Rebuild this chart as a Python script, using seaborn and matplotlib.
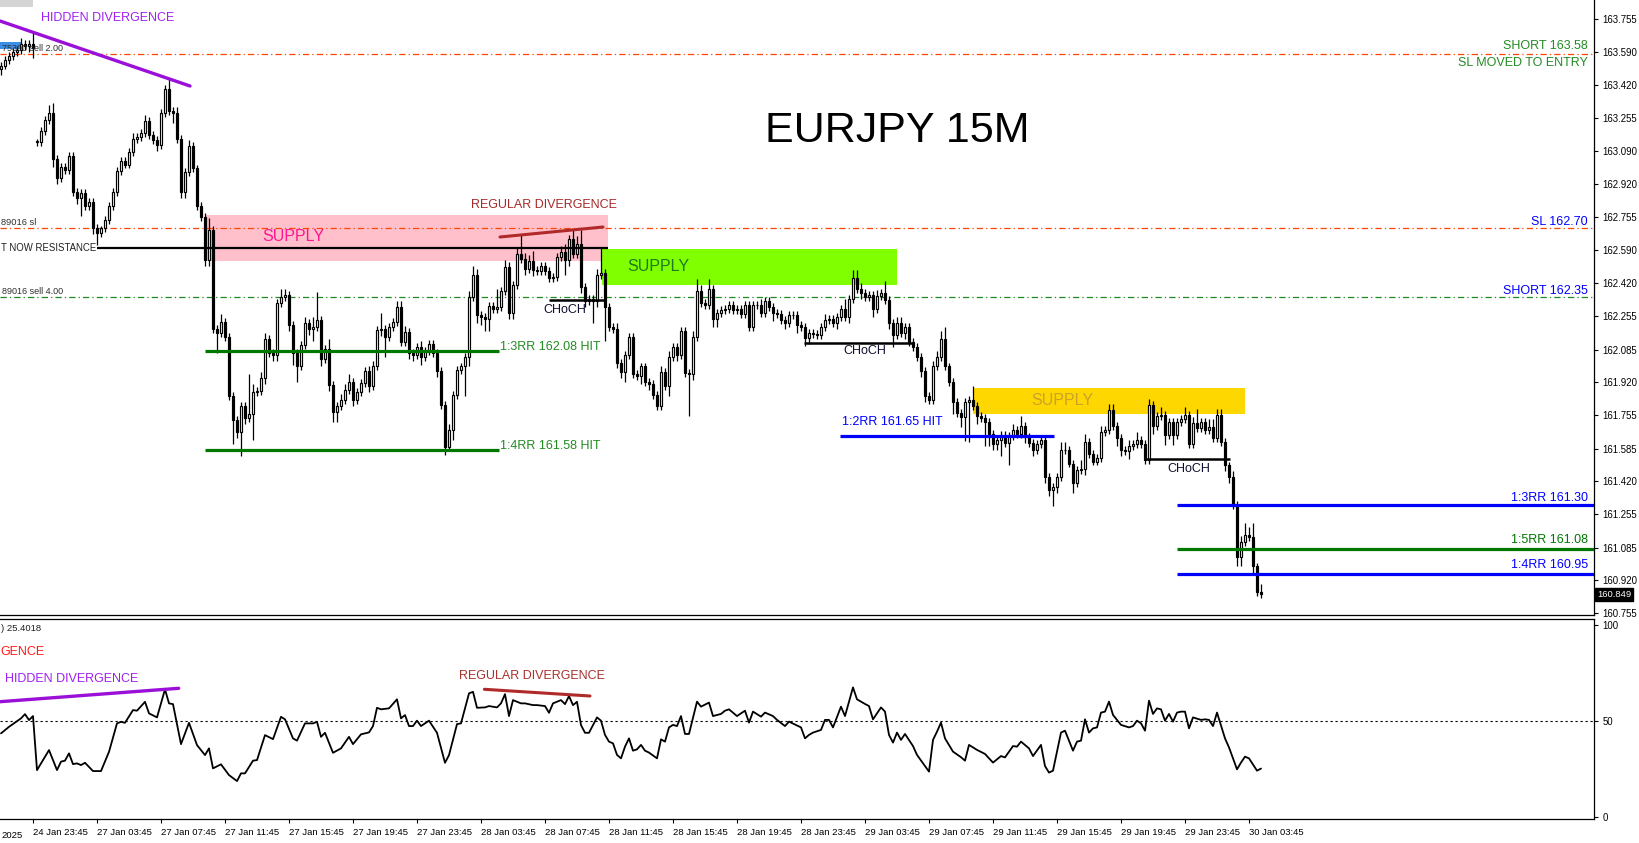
import numpy as np
import seaborn as sns
import matplotlib.pyplot as plt
import matplotlib.transforms as mtransforms
from matplotlib.patches import Rectangle

sns.set_theme(style="white")
plt.rcParams["font.family"] = ["Liberation Sans", "DejaVu Sans"]

# ---- EURJPY 15M candles, bar 0 = 24 Jan 21:45, bar 9 = Monday open ----
closes = [
    163.52, 163.55, 163.57, 163.59, 163.60, 163.63, 163.62, 163.63, 163.61, 163.135,
    163.19, 163.245, 163.28, 163.05, 162.95, 163.01, 162.99, 163.065, 162.88, 162.85,
    162.875, 162.81, 162.83, 162.70, 162.675, 162.70, 162.74, 162.81, 162.88, 162.985,
    163.04, 163.02, 163.085, 163.15, 163.16, 163.18, 163.24, 163.17, 163.145, 163.12,
    163.28, 163.40, 163.29, 163.28, 163.15, 162.88, 162.98, 163.115, 163.00, 162.81,
    162.755, 162.54, 162.69, 162.19, 162.17, 162.225, 162.15, 161.85, 161.73, 161.67,
    161.80, 161.74, 161.76, 161.87, 161.875, 161.94, 162.14, 162.07, 162.06, 162.32,
    162.35, 162.36, 162.21, 162.07, 162.00, 162.11, 162.22, 162.19, 162.20, 162.235,
    162.04, 162.09, 161.905, 161.77, 161.80, 161.83, 161.88, 161.92, 161.83, 161.87,
    161.915, 161.975, 161.90, 162.00, 162.185, 162.19, 162.15, 162.20, 162.225, 162.30,
    162.125, 162.175, 162.07, 162.06, 162.10, 162.05, 162.08, 162.115, 162.07, 161.975,
    161.805, 161.595, 161.68, 161.855, 161.98, 162.00, 162.05, 162.35, 162.46, 162.26,
    162.25, 162.24, 162.305, 162.29, 162.30, 162.38, 162.50, 162.27, 162.41, 162.57,
    162.545, 162.49, 162.535, 162.485, 162.48, 162.51, 162.48, 162.445, 162.45, 162.555,
    162.58, 162.54, 162.645, 162.57, 162.62, 162.40, 162.33, 162.34, 162.33, 162.46,
    162.47, 162.30, 162.20, 162.19, 162.02, 161.97, 162.06, 162.15, 161.96, 161.95,
    162.00, 161.92, 161.91, 161.855, 161.80, 161.97, 161.90, 162.05, 162.10, 162.06,
    162.18, 161.965, 161.96, 162.15, 162.38, 162.32, 162.31, 162.39, 162.24, 162.27,
    162.285, 162.29, 162.31, 162.285, 162.29, 162.265, 162.31, 162.20, 162.31, 162.31,
    162.27, 162.33, 162.30, 162.27, 162.265, 162.235, 162.22, 162.26, 162.26, 162.21,
    162.20, 162.145, 162.17, 162.165, 162.16, 162.20, 162.235, 162.24, 162.22, 162.25,
    162.29, 162.25, 162.34, 162.445, 162.39, 162.37, 162.35, 162.36, 162.29, 162.355,
    162.37, 162.335, 162.22, 162.16, 162.22, 162.17, 162.20, 162.125, 162.10, 162.05,
    161.975, 161.85, 161.83, 162.00, 162.05, 162.14, 162.00, 161.92, 161.82, 161.765,
    161.745, 161.82, 161.83, 161.80, 161.75, 161.74, 161.72, 161.66, 161.61, 161.63,
    161.655, 161.612, 161.65, 161.68, 161.66, 161.70, 161.646, 161.612, 161.578, 161.61,
    161.63, 161.443, 161.376, 161.39, 161.44, 161.578, 161.58, 161.51, 161.41, 161.477,
    161.48, 161.62, 161.56, 161.52, 161.54, 161.67, 161.68, 161.78, 161.70, 161.64,
    161.58, 161.575, 161.60, 161.61, 161.63, 161.61, 161.53, 161.805, 161.70, 161.75,
    161.755, 161.655, 161.72, 161.655, 161.72, 161.735, 161.755, 161.61, 161.713, 161.69,
    161.72, 161.68, 161.696, 161.64, 161.755, 161.62, 161.50, 161.443, 161.30, 161.04,
    161.115, 161.15, 161.14, 160.99, 160.863, 160.849,
]
first_open = 163.50
monday_bar = 9
monday_open = 163.14

# wick lengths in pips (0.01)
upper_wick = [
    2, 2, 2, 2, 2, 3, 2, 2, 6, 1,   2, 2, 4, 5, 2, 2, 2, 2, 2, 2,
    2, 2, 2, 2, 2, 1, 2, 2, 2, 2,   2, 2, 2, 3, 2, 2, 3, 2, 2, 2,
    2, 2, 5, 2, 3, 2, 2, 3, 2, 2,   2, 2, 6, 2, 2, 4, 2, 2, 2, 2,
    2, 2, 20, 4, 2, 3, 3, 2, 2, 2,  4, 3, 2, 2, 2, 2, 3, 2, 5, 14,
    2, 2, 5, 2, 2, 3, 3, 4, 2, 2,   2, 2, 3, 3, 2, 8, 2, 2, 2, 3,
    3, 3, 2, 2, 2, 3, 2, 2, 2, 2,   2, 2, 3, 2, 2, 2, 2, 3, 5, 3,
    2, 2, 2, 2, 9, 2, 4, 3, 2, 3,   10, 3, 3, 5, 2, 2, 2, 2, 2, 2,
    3, 4, 2, 5, 4, 7, 2, 2, 2, 3,   13, 2, 2, 2, 3, 2, 2, 2, 2, 2,
    2, 2, 2, 2, 2, 3, 2, 3, 2, 2,   2, 2, 2, 3, 6, 3, 2, 5, 2, 2,
    2, 2, 2, 2, 2, 2, 2, 2, 2, 2,   3, 2, 2, 2, 2, 2, 2, 2, 2, 2,
    2, 2, 2, 2, 2, 2, 3, 2, 2, 2,   2, 5, 2, 4, 4, 3, 2, 2, 2, 3,
    2, 6, 2, 2, 3, 3, 2, 2, 2, 2,   2, 2, 2, 3, 3, 4, 6, 2, 2, 2,
    2, 2, 2, 7, 2, 2, 2, 2, 2, 2,   2, 2, 2, 3, 2, 5, 2, 2, 2, 2,
    2, 2, 2, 2, 2, 4, 4, 2, 2, 2,   5, 4, 2, 2, 2, 3, 2, 3, 3, 2,
    2, 2, 3, 2, 4, 2, 2, 3, 2, 2,   4, 2, 2, 2, 2, 2, 4, 2, 3, 7,
    2, 2, 4, 4, 3, 3, 2, 2, 3, 2,   3, 6, 4, 7, 2, 4,
]
lower_wick = [
    3, 2, 2, 2, 2, 2, 2, 3, 5, 2,   2, 2, 2, 4, 3, 2, 2, 2, 2, 3,
    9, 2, 2, 3, 6, 2, 2, 2, 2, 2,   2, 2, 2, 2, 2, 2, 2, 2, 2, 3,
    2, 2, 2, 5, 2, 3, 3, 2, 2, 2,   2, 3, 3, 2, 10, 2, 2, 2, 12, 3,
    12, 3, 2, 13, 2, 2, 3, 2, 3, 3, 2, 2, 3, 6, 8, 2, 2, 3, 6, 2,
    4, 2, 3, 5, 5, 2, 2, 2, 3, 2,   2, 2, 3, 2, 2, 3, 10, 2, 2, 2,
    2, 2, 3, 3, 2, 4, 2, 2, 2, 3,   2, 4, 2, 5, 2, 2, 15, 5, 2, 4,
    4, 6, 6, 2, 2, 2, 2, 3, 3, 2,   2, 3, 2, 3, 2, 2, 2, 2, 2, 2,
    2, 8, 3, 2, 2, 3, 3, 2, 11, 3,  2, 17, 2, 2, 3, 3, 5, 2, 2, 2,
    4, 2, 3, 2, 2, 2, 2, 5, 2, 3,   2, 2, 21, 3, 2, 2, 2, 2, 4, 4,
    2, 2, 2, 2, 2, 2, 2, 2, 2, 2,   2, 2, 2, 4, 2, 2, 3, 2, 2, 4,
    2, 4, 3, 2, 2, 2, 2, 2, 2, 3,   2, 2, 3, 2, 2, 3, 2, 2, 4, 2,
    2, 2, 3, 6, 2, 2, 3, 2, 2, 2,   3, 3, 2, 2, 2, 2, 2, 2, 6, 2,
    5, 12, 20, 2, 4, 2, 12, 6, 3, 3, 8, 2, 11, 2, 2, 2, 3, 2, 3, 2,
    2, 3, 3, 8, 3, 2, 2, 2, 5, 2,   2, 3, 2, 2, 2, 2, 2, 2, 2, 4,
    3, 2, 4, 2, 2, 2, 2, 2, 4, 2,   2, 5, 2, 5, 2, 2, 2, 2, 2, 2,
    2, 2, 2, 2, 2, 2, 3, 3, 2, 5,   5, 2, 2, 4, 2, 2,
]

# ---- RSI(14) ----
rsi_bars = [
    0, 2, 5, 6, 7, 8, 9, 11, 12, 14, 15, 16, 17, 18, 19, 20, 21, 23, 25, 27,
    29, 30, 31, 33, 34, 36, 37, 39, 41, 42, 43, 45, 47, 49, 51, 52, 53, 55, 57, 59,
    60, 61, 63, 64, 66, 68, 70, 71, 73, 74, 76, 78, 79, 80, 81, 83, 85, 87, 88, 90,
    92, 93, 94, 95, 97, 99, 100, 101, 102, 103, 104, 105, 107, 109, 111, 112, 114, 115, 117, 118,
    119, 121, 122, 124, 125, 126, 127, 128, 130, 131, 133, 134, 136, 137, 138, 140, 141, 142, 143, 144,
    145, 146, 147, 149, 150, 151, 152, 153, 154, 155, 156, 157, 158, 159, 160, 161, 162, 164, 165, 166,
    167, 168, 169, 170, 171, 172, 174, 175, 177, 178, 180, 181, 182, 184, 186, 187, 188, 190, 191, 193,
    194, 196, 197, 200, 201, 202, 203, 205, 206, 207, 208, 210, 211, 213, 214, 216, 217, 218, 220, 221,
    222, 223, 224, 225, 226, 228, 229, 231, 232, 233, 234, 235, 236, 238, 240, 241, 242, 244, 246, 248,
    250, 251, 253, 254, 255, 257, 258, 260, 261, 262, 263, 265, 266, 268, 269, 270, 271, 272, 273, 274,
    275, 276, 277, 278, 280, 282, 283, 284, 285, 286, 287, 288, 289, 290, 291, 292, 293, 294, 295, 296,
    297, 298, 300, 301, 302, 303, 304, 306, 307, 309, 310, 311, 312, 314, 315,
]
rsi_values = [
    43.7, 47.1, 51.5, 53.7, 50.6, 52.7, 24.6, 31.6, 35.0, 24.6, 29.0, 29.5, 33.3, 27.7, 28.1, 27.2, 28.4, 24.1, 24.1, 34.1,
    48.9, 49.7, 49.2, 55.8, 55.5, 60.1, 54.1, 52.0, 66.6, 59.3, 58.9, 38.1, 49.2, 37.6, 32.4, 35.9, 25.5, 27.6, 22.0, 18.9,
    22.9, 22.9, 29.5, 29.8, 42.8, 40.7, 52.3, 51.0, 41.1, 39.9, 48.9, 48.9, 49.7, 41.9, 44.0, 33.6, 35.9, 41.9, 38.1, 43.2,
    44.2, 47.5, 57.0, 56.2, 56.7, 61.4, 51.5, 53.2, 47.5, 47.5, 50.3, 47.5, 50.3, 44.0, 28.4, 32.4, 48.5, 48.9, 64.5, 65.3,
    57.0, 57.2, 57.9, 57.2, 59.3, 64.1, 52.7, 61.0, 59.3, 59.3, 58.4, 58.4, 57.9, 54.4, 59.3, 61.0, 58.9, 63.1, 58.4, 60.1,
    48.0, 44.0, 44.0, 52.0, 50.3, 42.9, 39.4, 38.5, 32.5, 30.7, 36.8, 41.1, 34.7, 35.4, 37.7, 34.7, 33.7, 30.7, 40.6, 39.4,
    46.8, 48.1, 47.5, 52.7, 43.4, 43.4, 60.2, 57.6, 59.7, 52.7, 53.8, 55.5, 56.2, 52.7, 55.5, 49.3, 55.0, 52.4, 54.5, 52.7,
    50.7, 47.5, 49.8, 46.8, 41.1, 42.9, 44.1, 45.5, 50.7, 50.7, 46.8, 57.6, 52.7, 67.6, 61.4, 59.0, 57.9, 51.0, 57.2, 55.0,
    42.9, 38.9, 44.1, 40.3, 43.4, 37.1, 32.5, 26.7, 23.8, 40.3, 44.6, 49.3, 41.1, 34.2, 31.3, 29.5, 37.7, 35.1, 33.0, 28.5,
    31.9, 31.2, 37.1, 36.8, 39.4, 35.9, 31.9, 37.7, 26.7, 23.3, 24.3, 44.1, 45.1, 34.7, 39.4, 39.9, 51.0, 44.1, 46.3, 46.8,
    54.5, 55.0, 60.2, 53.3, 48.1, 46.8, 47.5, 50.3, 48.9, 45.1, 60.7, 53.8, 56.7, 56.2, 50.3, 53.8, 49.8, 54.5, 55.0, 55.0,
    46.3, 52.0, 50.7, 51.0, 50.7, 47.5, 54.5, 41.1, 36.4, 25.0, 28.5, 31.6, 30.7, 24.3, 25.4,
]

price_labels = ["163.755", "163.590", "163.420", "163.255", "163.090", "162.920", "162.755",
                "162.590", "162.420", "162.255", "162.085", "161.920", "161.755", "161.585",
                "161.420", "161.255", "161.085", "160.920", "160.755"]
time_bars = [8, 24, 40, 56, 72, 88, 104, 120, 136, 152, 168, 184, 200, 216, 232, 248, 264, 280, 296, 312]
time_labels = ["24 Jan 23:45", "27 Jan 03:45", "27 Jan 07:45", "27 Jan 11:45", "27 Jan 15:45",
               "27 Jan 19:45", "27 Jan 23:45", "28 Jan 03:45", "28 Jan 07:45", "28 Jan 11:45",
               "28 Jan 15:45", "28 Jan 19:45", "28 Jan 23:45", "29 Jan 03:45", "29 Jan 07:45",
               "29 Jan 11:45", "29 Jan 15:45", "29 Jan 19:45", "29 Jan 23:45", "30 Jan 03:45"]

# ---- levels ----
short_top = 163.58
sl_level = 162.70
short_low = 162.35
rr_hit_3 = 162.08
rr_hit_4 = 161.58
rr_hit_2 = 161.65
tp_levels = [161.30, 161.08, 160.95]
tp_names = ["1:3RR 161.30", "1:5RR 161.08", "1:4RR 160.95"]
tp_colors = ["#0000ff", "#007800", "#0000ff"]
last_price = 160.849


# reference pixel -> data helpers (layout only)
def bx(px):
    return (px - 1) / 4.0


def py(y):
    return 163.755 - (y - 19) / 198.0


def ry(y):
    return (817.4 - y) / 1.923


W, H = 1639, 843
fig = plt.figure(figsize=(W / 100, H / 100), dpi=100)
fig.patch.set_facecolor("white")
ax = fig.add_axes([0, 1 - 615 / H, 1594 / W, 615 / H])
ax2 = fig.add_axes([0, 1 - 818.5 / H, 1594 / W, 199.7 / H])

for a in (ax, ax2):
    a.set_facecolor("white")
    a.set_xlim(-0.25, bx(1594))
    for s in a.spines.values():
        s.set_color("black")
        s.set_linewidth(0.9)
    a.spines["left"].set_visible(False)
    a.grid(False)
ax.spines["top"].set_visible(False)
ax.set_ylim(py(615), py(0))
ax2.set_ylim(ry(818.5), ry(618.8))

# ---- candles ----
c = np.array(closes)
o = np.array([first_open] + closes[:-1])
o[monday_bar] = monday_open
x = np.arange(len(c))
hi = np.maximum(o, c) + np.array(upper_wick) / 100.0
lo = np.minimum(o, c) - np.array(lower_wick) / 100.0
up = c >= o
ax.vlines(x, lo, hi, color="black", lw=0.9, zorder=3)
ax.bar(x[up], (c - o)[up], bottom=o[up], width=0.62, color="white",
       edgecolor="black", linewidth=0.85, zorder=4)
ax.bar(x[~up], (o - c)[~up], bottom=c[~up], width=0.62, color="black",
       edgecolor="black", linewidth=0.85, zorder=4)

# ---- zones ----
ax.add_patch(Rectangle((bx(205), py(260.5)), bx(608) - bx(205), py(215) - py(260.5),
                       facecolor="#ffc0cb", edgecolor="none", zorder=1))
ax.add_patch(Rectangle((bx(602), py(284.5)), bx(897) - bx(602), py(249.3) - py(284.5),
                       facecolor="#7fff00", edgecolor="none", zorder=1))
ax.add_patch(Rectangle((bx(973), py(414.3)), bx(1245) - bx(973), py(388.3) - py(414.3),
                       facecolor="#ffd700", edgecolor="none", zorder=1))
ax.add_patch(Rectangle((bx(0), py(7)), bx(33) - bx(0), py(0) - py(7),
                       facecolor="#d4d4d4", edgecolor="none", zorder=1))
ax.add_patch(Rectangle((bx(0), py(49)), bx(22) - bx(0), py(42) - py(49),
                       facecolor="#3c8fe6", edgecolor="none", zorder=2))

# ---- horizontal levels ----
dd = (5, 2.5, 1, 2.5)
ax.axhline(short_top, color="#ff4500", lw=0.9, dashes=dd, zorder=2)
ax.axhline(sl_level, color="#ff4500", lw=0.9, dashes=dd, zorder=2)
ax.axhline(short_low, color="#1f8a1f", lw=0.9, dashes=dd, zorder=2)

ax.hlines(py(248), bx(97), bx(608), color="black", lw=1.6, zorder=5)
ax.hlines(rr_hit_3, bx(205), bx(499), color="#007800", lw=2.3, zorder=5)
ax.hlines(rr_hit_4, bx(205), bx(499), color="#007800", lw=2.3, zorder=5)
ax.hlines(rr_hit_2, bx(840), bx(1054), color="#0000ff", lw=2.3, zorder=5)
ax.hlines(py(300), bx(549), bx(606), color="black", lw=1.8, zorder=5)
ax.hlines(py(343), bx(804), bx(913), color="black", lw=1.8, zorder=5)
ax.hlines(py(459.3), bx(1145), bx(1230), color="black", lw=1.8, zorder=5)
for lvl, col in zip(tp_levels, tp_colors):
    ax.hlines(lvl, bx(1177), bx(1594), color=col, lw=2.3, zorder=5)

ax.plot([bx(0), bx(190)], [py(21), py(86)], color="#9b10d8", lw=2.4, zorder=5)
ax.plot([bx(500), bx(603)], [py(237), py(227)], color="#b02a2a", lw=2.2, zorder=5)

# ---- annotations ----
ax.text(bx(41), py(18), "HIDDEN DIVERGENCE", color="#a020f0", fontsize=9, va="center")
ax.text(bx(897), py(131), "EURJPY 15M", color="black", fontsize=31, ha="center", va="center")
ax.text(bx(544), py(205), "REGULAR DIVERGENCE", color="#a52a2a", fontsize=9, ha="center", va="center")
ax.text(bx(262), py(236.5), "SUPPLY", color="#ff1493", fontsize=11.5, va="center", zorder=6)
ax.text(bx(627), py(266.7), "SUPPLY", color="#1f7a1f", fontsize=11.5, va="center", zorder=6)
ax.text(bx(1031), py(400.7), "SUPPLY", color="#c9a227", fontsize=11.5, va="center", zorder=6)
ax.text(bx(565), py(310), "CHoCH", color="#101030", fontsize=9, ha="center", va="center", zorder=6)
ax.text(bx(865), py(351.5), "CHoCH", color="#101030", fontsize=9, ha="center", va="center", zorder=6)
ax.text(bx(1189), py(469.3), "CHoCH", color="#101030", fontsize=9, ha="center", va="center", zorder=6)
ax.text(bx(500), py(347), "1:3RR 162.08 HIT", color="#228b22", fontsize=9, va="center", zorder=6)
ax.text(bx(500), py(446), "1:4RR 161.58 HIT", color="#228b22", fontsize=9, va="center", zorder=6)
ax.text(bx(842), py(422), "1:2RR 161.65 HIT", color="#0000ff", fontsize=9, va="center", zorder=6)

xr = bx(1588)
ax.text(xr, py(46), "SHORT 163.58", color="#228b22", fontsize=9, ha="right", va="center")
ax.text(xr, py(62.7), "SL MOVED TO ENTRY", color="#228b22", fontsize=9, ha="right", va="center")
ax.text(xr, py(221.6), "SL 162.70", color="#0000ff", fontsize=9, ha="right", va="center")
ax.text(xr, py(290.6), "SHORT 162.35", color="#0000ff", fontsize=9, ha="right", va="center")
for lvl, name, col, ty in zip(tp_levels, tp_names, tp_colors, [497.6, 540, 565.5]):
    ax.text(xr, py(ty), name, color=col, fontsize=9, ha="right", va="center", zorder=6)

# order labels, only the parts that show at the left edge
ax.text(bx(63), py(48.3), "75300 sell 2.00", color="#303030", fontsize=6.5,
        ha="right", va="center", zorder=6)
ax.text(bx(36), py(222.7), "89016 sl", color="#303030", fontsize=6.7,
        ha="right", va="center")
ax.text(bx(96), py(248.3), "T NOW RESISTANCE", color="#202020", fontsize=6.9,
        ha="right", va="center")
ax.text(bx(63.3), py(291.7), "89016 sell 4.00", color="#303030", fontsize=6.5,
        ha="right", va="center")

# price axis
ax.yaxis.tick_right()
ax.set_yticks([float(v) for v in price_labels])
ax.set_yticklabels(price_labels)
ax.tick_params(axis="y", direction="out", length=3, width=0.8, colors="black",
               labelsize=6.9, pad=3, right=True, left=False)
ax.set_xticks([])
trans = mtransforms.blended_transform_factory(ax.transAxes, ax.transData)
ax.text(1.0018, last_price, f"{last_price:.3f}", transform=trans, color="white",
        fontsize=6.8, ha="left", va="center", clip_on=False,
        bbox=dict(facecolor="black", edgecolor="black", pad=1.6))

# ---- RSI panel ----
ax2.axhline(50, color="black", lw=0.8, ls=(0, (2, 2.5)), zorder=1)
sns.lineplot(x=rsi_bars, y=rsi_values, ax=ax2, color="black", lw=1.3, zorder=3)
ax2.plot([bx(0), bx(178.7)], [ry(701.7), ry(688.3)], color="#9b10d8", lw=2.4, zorder=4)
ax2.plot([bx(484.4), bx(590)], [ry(689.3), ry(696)], color="#b02a2a", lw=2.2, zorder=4)
ax2.text(bx(41), ry(628), ") 25.4018", color="#202020", fontsize=6.8,
         ha="right", va="center")
ax2.text(bx(45), ry(652), "GENCE", color="#ff1a1a", fontsize=9,
         ha="right", va="center")
ax2.text(bx(4.7), ry(679), "HIDDEN DIVERGENCE", color="#a020f0", fontsize=9, va="center")
ax2.text(bx(458.7), ry(675.7), "REGULAR DIVERGENCE", color="#a8322d", fontsize=9, va="center")

ax2.yaxis.tick_right()
ax2.set_yticks([0, 50, 100])
ax2.set_yticklabels(["0", "50", "100"])
ax2.tick_params(axis="y", direction="out", length=3, width=0.8, colors="black",
                labelsize=6.9, pad=3, right=True, left=False)
ax2.set_xticks(time_bars)
ax2.set_xticklabels(time_labels)
for lbl in ax2.get_xticklabels():
    lbl.set_horizontalalignment("left")
ax2.tick_params(axis="x", direction="out", length=3, width=0.8, colors="black",
                labelsize=6.8, pad=4, bottom=True)
ax2.set_xlabel("")
ax2.set_ylabel("")
ax2.text(bx(1), -0.085, "2025", transform=mtransforms.blended_transform_factory(ax2.transData, ax2.transAxes),
         fontsize=6.8, ha="left", va="center", clip_on=False, color="black")

fig.savefig("out.png", dpi=100, facecolor="white")
